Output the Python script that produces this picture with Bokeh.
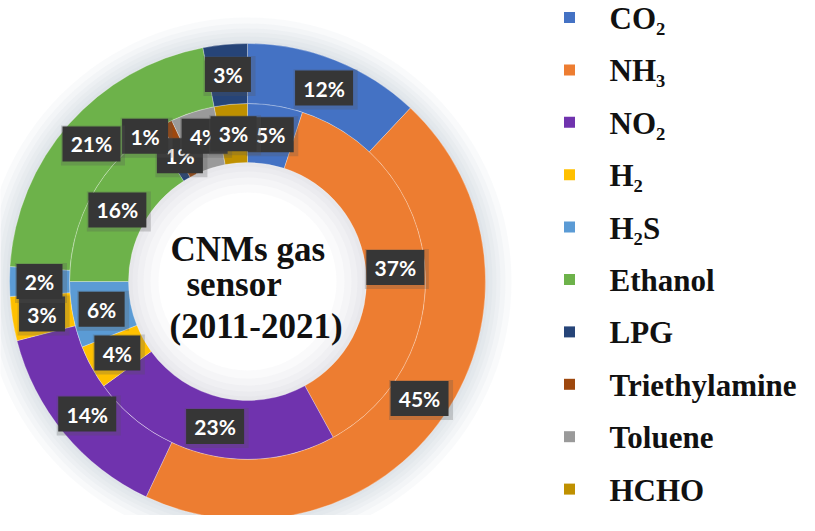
import numpy as np
from bokeh.plotting import figure
from bokeh.models import Range1d, ColumnDataSource
from bokeh.embed import file_html
from bokeh.resources import INLINE
from bokeh.core.properties import value

# ---------------- data ----------------
categories = ["CO2", "NH3", "NO2", "H2", "H2S", "Ethanol", "LPG",
              "Triethylamine", "Toluene", "HCHO"]
legend_labels = ["CO₂", "NH₃", "NO₂", "H₂", "H₂S", "Ethanol", "LPG",
                 "Triethylamine", "Toluene", "HCHO"]
outer_values = [12, 45, 14, 3, 2, 21, 3, 0, 0, 0]   # outer ring (%)
inner_values = [5, 37, 23, 4, 6, 16, 1, 1, 4, 3]    # inner ring (%)
center_lines = ["CNMs gas", "sensor", "(2011-2021)"]

# ---------------- styles ----------------
colors = ["#4472C4", "#ED7D31", "#7033AE", "#FFC000", "#5B9BD5", "#6DB24A",
          "#264478", "#9E480E", "#9A9A9A", "#BF9000"]
W, H = 799, 515
def sy(y):           # screen y (page px) -> data y
    return 531 - y

cx, cy = 255, sy(289)
R_out, R_mid, R_in = 238, 178, 119

# manual nudges (screen px) for the crowded inner labels
nudge = {("inner", "LPG"): (8, 2), ("inner", "Triethylamine"): (-35, -13),
         ("inner", "Toluene"): (3, -4)}

p = figure(width=W, height=H, output_backend="svg", toolbar_location=None,
           x_range=Range1d(8, 8 + W), y_range=Range1d(531 - 8 - H, 531 - 8),
           min_border=0, outline_line_color=None)
p.axis.visible = False
p.grid.visible = False
p.background_fill_color = "white"
p.border_fill_color = "white"

# soft halo around the donut
for k in (3, 7, 11, 15, 20, 26):
    p.annulus(x=cx, y=cy, inner_radius=R_out - 1, outer_radius=R_out + k,
              fill_color="#a8b6c6", fill_alpha=0.07, line_color=None)
# soft shading inside the hole
for k in (4, 9, 15, 22, 30):
    p.annulus(x=cx, y=cy, inner_radius=R_in - k, outer_radius=R_in + 1,
              fill_color="#9aa4b0", fill_alpha=0.05, line_color=None)


def ring_geometry(values):
    vals = np.array(values, dtype=float)
    frac = vals / vals.sum()
    end_cw = np.cumsum(frac) * 2 * np.pi
    start_cw = end_cw - frac * 2 * np.pi
    return vals, start_cw, end_cw


label_jobs = []
for name, values, r0, r1 in (("inner", inner_values, R_in, R_mid),
                             ("outer", outer_values, R_mid, R_out)):
    vals, s_cw, e_cw = ring_geometry(values)
    mask = vals > 0
    src = ColumnDataSource(dict(
        start=(np.pi / 2 - e_cw)[mask], end=(np.pi / 2 - s_cw)[mask],
        color=[c for c, m in zip(colors, mask) if m]))
    p.annular_wedge(x=cx, y=cy, inner_radius=r0, outer_radius=r1,
                    start_angle="start", end_angle="end", source=src,
                    fill_color="color", line_color="white", line_width=0.8,
                    line_alpha=0.35)
    rm = (r0 + r1) / 2
    for i, cat in enumerate(categories):
        if vals[i] <= 0:
            continue
        th = (s_cw[i] + e_cw[i]) / 2
        x = cx + rm * np.sin(th)
        y = cy + rm * np.cos(th)
        dx, dy = nudge.get((name, cat), (0, 0))
        label_jobs.append((x + dx, y - dy, f"{int(values[i])}%"))

for x, y, t in label_jobs:
    w = 22 + 12 * len(t)
    p.rect(x=x + 1.5, y=y - 1.5, width=w + 6, height=40, width_units="screen",
           height_units="screen", fill_color="#555555", fill_alpha=0.25,
           line_color=None)
    p.rect(x=x, y=y, width=w, height=35, width_units="screen",
           height_units="screen", fill_color="#363636", line_color=None)
    p.text(x=[x], y=[y], text=[t], text_align="center", text_baseline="middle",
           text_color="white", text_font=value("Lato"),
           text_font_style="bold", text_font_size="21px")

# centre title
center_x = [178, 194, 177]
center_y = [257, 292, 334]
for t, xx, yy in zip(center_lines, center_x, center_y):
    p.text(x=[xx], y=[sy(yy)], text=[t], text_align="left",
           text_baseline="alphabetic", text_color="#111111",
           text_font=value("Liberation Serif"), text_font_style="bold",
           text_font_size="35px")

# legend
leg_y = [sy(25 + 52.4 * i) for i in range(len(categories))]
p.scatter(x=[577] * len(categories), y=leg_y, marker="square", size=11,
          fill_color=colors, line_color=None)
p.text(x=[617] * len(categories), y=[v - 1 for v in leg_y], text=legend_labels,
       text_align="left", text_baseline="middle", text_color="#111111",
       text_font=value("Liberation Serif"), text_font_style="bold",
       text_font_size="31px")

open("out.html", "w").write(file_html(p, INLINE))
